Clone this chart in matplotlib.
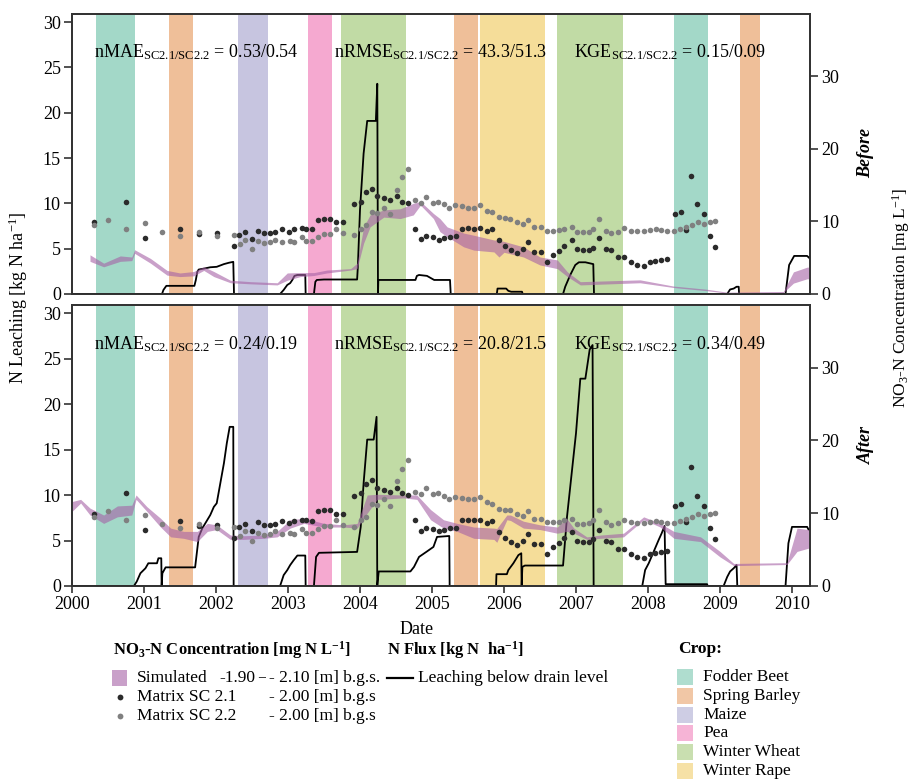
import matplotlib
matplotlib.use('Agg')
import matplotlib.pyplot as plt
from matplotlib.patches import Rectangle
from matplotlib.lines import Line2D

plt.rcParams['font.family'] = ['Liberation Serif', 'DejaVu Serif']
plt.rcParams['mathtext.fontset'] = 'custom'
plt.rcParams['mathtext.rm'] = 'Liberation Serif'
plt.rcParams['mathtext.it'] = 'Liberation Serif:italic'
plt.rcParams['mathtext.bf'] = 'Liberation Serif:bold'

# ---------------- data ----------------
crop_names = ['Fodder Beet', 'Spring Barley', 'Maize', 'Pea', 'Winter Wheat', 'Winter Rape']
crop_colors = ['#1b9e77', '#d95f02', '#7570b3', '#e7298a', '#66a61e', '#e6ab02']
crop_type = ['Fodder Beet', 'Spring Barley', 'Maize', 'Pea', 'Winter Wheat',
             'Spring Barley', 'Winter Rape', 'Winter Wheat', 'Fodder Beet', 'Spring Barley']
crop_start = [2000.34, 2001.35, 2002.31, 2003.28, 2003.73, 2005.31, 2005.67, 2006.73, 2008.36, 2009.28]
crop_end = [2000.87, 2001.68, 2002.72, 2003.61, 2004.64, 2005.64, 2006.57, 2007.65, 2008.83, 2009.55]

# observed concentrations [mg N/L]
sc21_dates = [2000.31, 2000.75, 2001.01, 2001.50, 2001.76, 2002.02,
              2002.25, 2002.32, 2002.40, 2002.50, 2002.59, 2002.67, 2002.75, 2002.82, 2002.92,
              2003.02, 2003.09, 2003.19, 2003.25, 2003.34, 2003.42, 2003.50, 2003.59, 2003.67, 2003.76, 2003.92,
              2004.01, 2004.09, 2004.17, 2004.24, 2004.34, 2004.42, 2004.51, 2004.59, 2004.67, 2004.76, 2004.85, 2004.92,
              2005.01, 2005.10, 2005.17, 2005.25, 2005.33, 2005.42, 2005.50, 2005.59, 2005.67, 2005.76, 2005.84, 2005.93,
              2006.02, 2006.10, 2006.18, 2006.26, 2006.34, 2006.42, 2006.51, 2006.60, 2006.68, 2006.76, 2006.84, 2006.94,
              2007.01, 2007.10, 2007.18, 2007.24, 2007.32, 2007.42, 2007.49, 2007.58, 2007.66, 2007.77, 2007.85, 2007.94,
              2008.03, 2008.10, 2008.18, 2008.26, 2008.37, 2008.46, 2008.53, 2008.60, 2008.68, 2008.78, 2008.86, 2008.93]
sc21_conc = [9.9, 12.75, 7.75, 8.9, 8.25, 8.4,
             6.6, 8.1, 8.5, 7.6, 8.75, 8.4, 8.4, 8.5, 8.9,
             8.6, 8.9, 9.1, 9.0, 8.9, 10.25, 10.4, 10.4, 9.9, 9.9, 12.4,
             12.75, 14.0, 14.5, 13.5, 13.25, 12.9, 13.5, 12.75, 12.5, 9.0, 7.6, 8.0,
             7.8, 7.5, 7.7, 7.9, 8.0, 9.0, 9.1, 9.0, 9.1, 8.7, 8.9, 7.4,
             6.6, 6.1, 5.6, 6.25, 7.1, 5.75, 5.75, 4.4, 5.4, 5.9, 6.6, 7.4,
             6.25, 6.1, 6.1, 6.4, 7.7, 6.25, 6.0, 5.1, 5.05, 4.4, 4.0, 3.9,
             4.4, 4.5, 4.7, 4.8, 11.0, 11.25, 8.8, 16.3, 12.4, 11.0, 8.0, 6.5]
sc22_dates = [2000.31, 2000.50, 2000.75, 2001.01, 2001.25, 2001.50, 2001.76, 2002.02,
              2002.25, 2002.33, 2002.40, 2002.50, 2002.59, 2002.67, 2002.75, 2002.82, 2002.92,
              2003.03, 2003.09, 2003.19, 2003.25, 2003.34, 2003.42, 2003.50, 2003.59, 2003.67, 2003.76, 2003.92,
              2004.01, 2004.09, 2004.17, 2004.24, 2004.34, 2004.42, 2004.51, 2004.59, 2004.67, 2004.76, 2004.85, 2004.92,
              2005.01, 2005.08, 2005.16, 2005.24, 2005.32, 2005.42, 2005.50, 2005.59, 2005.67, 2005.76, 2005.84, 2005.93,
              2006.01, 2006.09, 2006.18, 2006.26, 2006.34, 2006.42, 2006.51, 2006.60, 2006.68, 2006.76, 2006.84, 2006.94,
              2007.02, 2007.10, 2007.18, 2007.24, 2007.32, 2007.42, 2007.49, 2007.58, 2007.66, 2007.77, 2007.85, 2007.94,
              2008.03, 2008.11, 2008.18, 2008.26, 2008.36, 2008.45, 2008.53, 2008.61, 2008.69, 2008.78, 2008.86, 2008.93]
sc22_conc = [9.5, 10.25, 9.0, 9.75, 8.5, 8.0, 8.5, 8.0,
             8.1, 6.9, 7.5, 6.25, 7.25, 7.0, 7.1, 7.5, 7.1,
             7.25, 7.1, 7.8, 7.25, 7.3, 7.8, 8.25, 8.25, 9.0, 8.4, 8.1,
             9.0, 9.5, 11.25, 11.1, 11.9, 11.0, 14.4, 16.1, 17.25, 12.9, 12.6, 13.4,
             12.6, 12.75, 12.4, 11.9, 12.25, 12.1, 11.9, 11.9, 12.25, 11.5, 11.25, 10.6,
             10.5, 10.4, 9.9, 9.6, 10.25, 9.25, 9.25, 8.75, 8.75, 8.8, 9.0, 9.2,
             8.55, 8.5, 8.6, 9.0, 10.4, 8.75, 8.4, 8.6, 9.05, 8.75, 8.7, 8.7,
             8.8, 8.9, 8.8, 8.7, 8.7, 8.9, 9.2, 9.5, 9.9, 9.6, 9.9, 10.0]

# simulated concentration band [mg N/L], before calibration
before_sim_dates = [2000.25, 2000.44, 2000.67, 2000.83, 2000.87, 2001.09, 2001.32, 2001.50, 2001.69, 2001.83,
                    2001.97, 2002.20, 2002.48, 2002.85, 2002.99, 2003.17, 2003.36, 2003.54, 2003.87, 2003.96,
                    2004.05, 2004.14, 2004.33, 2004.56, 2004.74, 2004.84, 2005.02, 2005.11, 2005.21, 2005.44,
                    2005.58, 2005.86, 2005.93, 2006.00, 2006.27, 2006.50, 2006.74, 2006.88, 2007.06, 2007.89,
                    2008.35, 2008.82, 2009.10, 2009.88, 2010.02, 2010.21, 2010.25]
before_sim_lo = [4.5, 3.75, 4.5, 4.6, 5.6, 4.25, 2.6, 2.4, 2.5, 3.25,
                 2.4, 1.55, 1.4, 1.25, 1.9, 2.4, 2.55, 2.9, 3.3, 3.5,
                 7.0, 9.25, 10.6, 10.4, 10.9, 12.25, 10.4, 8.6, 7.9, 6.5,
                 6.05, 5.8, 5.1, 5.75, 5.1, 4.0, 3.5, 2.4, 1.25, 1.55,
                 0.9, 0.45, 0.12, 0.2, 1.5, 2.1, 2.1]
before_sim_hi = [5.4, 4.25, 5.25, 5.1, 6.1, 4.9, 3.25, 2.9, 3.1, 3.75,
                 3.1, 1.9, 1.7, 1.55, 2.9, 2.95, 2.95, 3.3, 3.5, 4.25,
                 9.25, 10.9, 11.6, 11.75, 12.5, 12.75, 11.1, 10.4, 9.25, 8.4,
                 8.1, 7.45, 7.4, 7.25, 6.5, 5.1, 4.7, 3.05, 1.7, 1.95,
                 1.1, 0.65, 0.25, 0.35, 3.05, 3.7, 3.7]

# simulated concentration band [mg N/L], after calibration
after_sim_dates = [2000.00, 2000.12, 2000.25, 2000.44, 2000.63, 2000.83, 2000.89, 2001.04, 2001.23, 2001.37,
                   2001.55, 2001.74, 2001.88, 2002.01, 2002.20, 2002.38, 2002.66, 2002.85, 2003.03, 2003.22,
                   2003.50, 2003.77, 2003.96, 2004.10, 2004.24, 2004.61, 2004.79, 2004.98, 2005.16, 2005.35,
                   2005.58, 2005.86, 2005.90, 2006.04, 2006.09, 2006.27, 2006.50, 2006.74, 2006.87, 2006.97,
                   2007.15, 2007.34, 2007.66, 2007.94, 2008.17, 2008.36, 2008.73, 2009.00, 2009.19, 2009.93,
                   2010.07, 2010.23, 2010.25]
after_sim_lo = [10.25, 11.4, 9.75, 8.6, 9.5, 9.75, 11.9, 10.25, 8.1, 6.75,
                6.55, 6.1, 7.5, 7.75, 6.4, 6.4, 6.55, 6.75, 7.95, 8.6,
                8.1, 8.1, 7.95, 10.0, 11.9, 12.1, 11.9, 9.1, 7.95, 7.5,
                6.55, 6.4, 6.0, 9.1, 9.0, 7.95, 7.75, 7.25, 7.5, 7.25,
                6.4, 6.55, 6.75, 9.1, 8.1, 6.55, 6.1, 4.0, 2.8, 2.95,
                4.75, 5.2, 5.2]
after_sim_hi = [11.6, 11.9, 10.7, 9.75, 11.0, 11.1, 12.5, 10.9, 9.3, 7.95,
                7.5, 7.5, 8.6, 8.4, 7.0, 6.9, 7.0, 7.5, 9.1, 9.3,
                8.6, 8.4, 8.6, 12.5, 12.6, 12.5, 12.5, 10.5, 9.1, 8.6,
                8.1, 7.95, 7.9, 9.75, 9.75, 8.9, 8.4, 8.1, 9.3, 7.95,
                6.75, 7.0, 7.25, 9.5, 8.6, 7.5, 6.75, 4.75, 3.1, 3.2,
                7.95, 7.75, 7.75]

# cumulative N leaching below drain level [kg N/ha]
before_leach_dates = [2000.00, 2001.25, 2001.27, 2001.31, 2001.70, 2001.72, 2001.74, 2001.76, 2001.83, 2001.92,
                      2002.01, 2002.11, 2002.18, 2002.24, 2002.25, 2002.89, 2002.94, 2002.99, 2003.03, 2003.06,
                      2003.09, 2003.13, 2003.24, 2003.245, 2003.36, 2003.38, 2003.40, 2003.50, 2003.96, 2003.97,
                      2004.00, 2004.05, 2004.10, 2004.22, 2004.24, 2004.25, 2004.255, 2004.77, 2004.79, 2004.82,
                      2004.93, 2005.03, 2005.25, 2005.26, 2005.90, 2005.91, 2006.03, 2006.06, 2006.10, 2006.25,
                      2006.26, 2006.82, 2006.85, 2006.92, 2006.99, 2007.04, 2007.13, 2007.24, 2007.25, 2009.10,
                      2009.14, 2009.19, 2009.23, 2009.26, 2009.265, 2009.91, 2009.96, 2010.03, 2010.21, 2010.25]
before_leach = [0, 0, 0.45, 0.9, 0.9, 1.55, 2.45, 2.7, 2.8, 2.95,
                3.0, 3.3, 3.45, 3.55, 0, 0, 0.45, 1.0, 1.2, 1.55,
                2.0, 2.1, 2.1, 0, 0, 1.35, 1.55, 1.6, 1.6, 3.0,
                9.3, 15.5, 19.1, 19.1, 23.2, 0, 1.55, 1.55, 2.0, 2.1,
                2.0, 1.55, 1.55, 0, 0, 0.6, 0.6, 0.35, 0.25, 0.25,
                0, 0, 0.8, 2.1, 3.2, 3.5, 3.5, 3.3, 0, 0,
                0.5, 0.6, 0.8, 0.8, 0, 0, 3.2, 4.2, 4.2, 3.9]
after_leach_dates = [2000.00, 2000.86, 2000.90, 2000.95, 2001.02, 2001.06, 2001.18, 2001.20, 2001.24, 2001.245,
                     2001.255, 2001.30, 2001.71, 2001.76, 2001.81, 2001.92, 2001.97, 2002.01, 2002.06, 2002.11,
                     2002.15, 2002.19, 2002.24, 2002.245, 2002.89, 2002.94, 2002.99, 2003.03, 2003.08, 2003.13,
                     2003.24, 2003.245, 2003.36, 2003.39, 2003.43, 2003.96, 2004.01, 2004.05, 2004.10, 2004.19,
                     2004.23, 2004.24, 2004.26, 2004.70, 2004.75, 2004.82, 2004.93, 2005.02, 2005.07, 2005.24,
                     2005.245, 2005.89, 2005.895, 2006.04, 2006.06, 2006.13, 2006.20, 2006.24, 2006.245, 2006.255,
                     2006.29, 2006.82, 2006.875, 2006.97, 2007.00, 2007.06, 2007.13, 2007.19, 2007.23, 2007.245,
                     2007.92, 2007.96, 2008.01, 2008.08, 2008.15, 2008.19, 2008.23, 2008.245, 2008.82, 2008.83,
                     2009.05, 2009.10, 2009.14, 2009.19, 2009.23, 2009.24, 2009.91, 2009.95, 2010.00, 2010.21,
                     2010.23, 2010.25]
after_leach = [0, 0, 0.5, 1.4, 1.95, 2.5, 2.5, 3.05, 3.05, 0,
               1.4, 2.05, 2.05, 5.4, 6.35, 7.8, 8.7, 9.1, 11.3, 13.5,
               15.7, 17.5, 17.5, 0, 0, 1.2, 1.75, 2.3, 2.85, 3.35,
               3.35, 0, 0, 3.2, 3.65, 3.75, 6.5, 11.3, 16.1, 16.1,
               18.6, 0, 1.6, 1.6, 2.1, 3.2, 3.8, 4.3, 5.4, 5.5,
               0, 0, 1.3, 1.3, 1.75, 2.5, 3.4, 3.6, 0, 2.1,
               2.25, 2.25, 7.6, 14.6, 16.8, 22.8, 22.8, 26.0, 26.5, 0,
               0, 1.75, 2.5, 3.8, 5.1, 5.8, 6.6, 0.2, 0.2, 0,
               0, 1.0, 1.6, 1.95, 2.3, 0, 0, 4.7, 6.5, 6.5,
               6.2, 6.2]

metric_names = ['nMAE', 'nRMSE', 'KGE']
metric_fmt = ['{:.2f}', '{:.1f}', '{:.2f}']
before_sc21_metrics = [0.53, 43.3, 0.15]
before_sc22_metrics = [0.54, 51.3, 0.09]
after_sc21_metrics = [0.24, 20.8, 0.34]
after_sc22_metrics = [0.19, 21.5, 0.49]

year_ticks = list(range(2000, 2011))
left_ticks = [0, 5, 10, 15, 20, 25, 30]
right_ticks = [0, 10, 20, 30]

# ---------------- styling ----------------
W, H = 914, 780
SIM_COLOR = '#a561a5'
SIM_ALPHA = 0.6
DARK_PT = '#2b2b2b'
GREY_PT = '#808080'
SPINE = '#333333'
color_of = dict(zip(crop_names, crop_colors))

fig = plt.figure(figsize=(W / 100, H / 100), dpi=100)


def fx(px):
    return px / W


def fy(py):
    return 1 - py / H


def panel(rect, sim_dates, sim_lo, sim_hi, leach_dates, leach_vals, m21, m22, show_x):
    ax = fig.add_axes(rect)
    for c, s, e in zip(crop_type, crop_start, crop_end):
        ax.axvspan(s, e, color=color_of[c], alpha=0.4, lw=0, zorder=0)
    ax.plot(leach_dates, leach_vals, color='black', lw=1.3, zorder=3)
    ax.set_xlim(2000, 2010.25)
    ax.set_ylim(0, 30.9)
    ax.set_yticks(left_ticks)
    ax2 = ax.twinx()
    ax2.fill_between(sim_dates, sim_lo, sim_hi, color=SIM_COLOR, alpha=SIM_ALPHA, lw=0, zorder=2)
    ax2.scatter(sc21_dates, sc21_conc, s=16, color=DARK_PT, lw=0, zorder=4)
    ax2.scatter(sc22_dates, sc22_conc, s=16, color=GREY_PT, lw=0, zorder=4)
    ax2.set_ylim(0, 38.6)
    ax2.set_yticks(right_ticks)
    ax2.set_xlim(2000, 2010.25)
    for a in (ax, ax2):
        for sp in a.spines.values():
            sp.set_color(SPINE)
            sp.set_linewidth(1.3)
        a.tick_params(axis='y', direction='out', length=6, width=1.2, color=SPINE, labelsize=13, pad=2)
    if show_x:
        ax.set_xticks(year_ticks)
        ax.set_xticklabels([str(y) for y in year_ticks])
        ax.tick_params(axis='x', direction='out', length=5, width=1.2, color=SPINE, labelsize=13, pad=2)
    else:
        ax.tick_params(axis='x', bottom=False, labelbottom=False)
    ax2.tick_params(axis='x', bottom=False, labelbottom=False)
    xs = [0.030, 0.355, 0.680]
    for x, name, fmt, a, b in zip(xs, metric_names, metric_fmt, m21, m22):
        ax2.text(x, 0.862, name + r'$_{\mathrm{SC2.1/SC2.2}}$' + ' = ' + fmt.format(a) + '/' + fmt.format(b),
                 transform=ax.transAxes, va='center', ha='left', fontsize=13, zorder=6)
    return ax, ax2


panel([fx(72), fy(294), fx(738), 280 / H], before_sim_dates, before_sim_lo, before_sim_hi,
      before_leach_dates, before_leach, before_sc21_metrics, before_sc22_metrics, False)
panel([fx(72), fy(586), fx(738), 281 / H], after_sim_dates, after_sim_lo, after_sim_hi,
      after_leach_dates, after_leach, after_sc21_metrics, after_sc22_metrics, True)

# axis labels
fig.text(fx(18), fy(298), 'N Leaching [kg N ha$^{-1}$]', rotation=90, va='center', ha='center', fontsize=13)
fig.text(fx(901), fy(298), 'NO$_3$-N Concentration [mg L$^{-1}$]', rotation=90, va='center', ha='center',
         fontsize=12.5)
fig.text(fx(866), fy(153), 'Before', rotation=90, va='center', ha='center', fontsize=13,
         fontweight='bold', fontstyle='italic')
fig.text(fx(866), fy(445), 'After', rotation=90, va='center', ha='center', fontsize=13,
         fontweight='bold', fontstyle='italic')
fig.text(fx(417), fy(629), 'Date', va='center', ha='center', fontsize=13)

# ---------------- legends ----------------
LFS = 12.5
fig.text(fx(113), fy(650), r'NO$_{\mathbf{3}}$-N Concentration [mg N L$^{\mathbf{-1}}$]', fontweight='bold',
         va='center', ha='left', fontsize=12)
rows_y = [678, 697, 716]
fig.add_artist(Rectangle((fx(112), fy(686)), fx(15), 16 / H, transform=fig.transFigure,
                         facecolor=SIM_COLOR, alpha=SIM_ALPHA, lw=0))
for py, col in zip(rows_y[1:], [DARK_PT, GREY_PT]):
    fig.add_artist(Line2D([fx(120)], [fy(py)], transform=fig.transFigure, marker='o', ms=4.2,
                          color=col, mec='none', ls='none'))
labels = ['Simulated', 'Matrix SC 2.1', 'Matrix SC 2.2']
depths = ['- 2.10 [m] b.g.s.', '- 2.00 [m] b.g.s', '- 2.00 [m] b.g.s']
for py, lab, dep in zip(rows_y, labels, depths):
    fig.text(fx(137), fy(py), lab, va='center', ha='left', fontsize=LFS)
    fig.text(fx(269), fy(py), dep, va='center', ha='left', fontsize=LFS)
fig.text(fx(255), fy(rows_y[0]), '-1.90', va='center', ha='right', fontsize=LFS)
fig.text(fx(258), fy(rows_y[0]), '\u2013', va='center', ha='left', fontsize=10, fontweight='bold')

fig.text(fx(387), fy(650), r'N Flux [kg N  ha$^{\mathbf{-1}}$]', fontweight='bold', va='center', ha='left',
         fontsize=12)
fig.add_artist(Line2D([fx(387), fx(413)], [fy(678), fy(678)], transform=fig.transFigure, color='black', lw=1.6))
fig.text(fx(418), fy(678), 'Leaching below drain level', va='center', ha='left', fontsize=LFS)

fig.text(fx(678), fy(649), 'Crop:', fontweight='bold', va='center', ha='left', fontsize=12.5)
for i, (name, col) in enumerate(zip(crop_names, crop_colors)):
    cy = 677 + 18.8 * i
    fig.add_artist(Rectangle((fx(677), fy(cy + 8)), fx(16), 16 / H, transform=fig.transFigure,
                             facecolor=col, alpha=0.35, lw=0))
    fig.text(fx(703), fy(cy), name, va='center', ha='left', fontsize=LFS)

fig.savefig('out.png', dpi=100)
